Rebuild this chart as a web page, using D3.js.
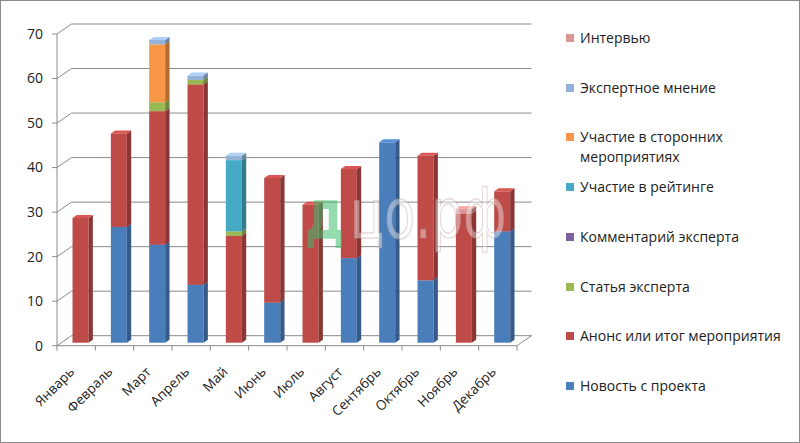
<!DOCTYPE html>
<html><head><meta charset="utf-8">
<script src="https://cdn.jsdelivr.net/npm/d3@7"></script>
<style>body{margin:0;background:#fff}svg{display:block}</style>
</head><body><svg id="c" width="800" height="443"></svg>
<script>
const months = ["Январь","Февраль","Март","Апрель","Май","Июнь","Июль","Август","Сентябрь","Октябрь","Ноябрь","Декабрь"];
const seriesNames = ["Новость с проекта","Анонс или итог мероприятия","Статья эксперта","Комментарий эксперта","Участие в рейтинге","Участие в сторонних мероприятиях","Экспертное мнение","Интервью"];
const news      = [0,26,22,13,0,9,0,19,45,14,0,25];
const announce  = [28,21,30,45,24,28,31,20,0,28,29,9];
const article   = [0,0,2,1,1,0,0,0,0,0,0,0];
const comment   = [0,0,0,0,0,0,0,0,0,0,0,0];
const rating    = [0,0,0,0,16,0,0,0,0,0,0,0];
const external  = [0,0,13,0,0,0,0,0,0,0,0,0];
const opinion   = [0,0,1,1,1,0,0,0,0,0,0,0];
const interview = [0,0,0,0,0,0,0,0,0,0,1,0];
const yTicks = [0,10,20,30,40,50,60,70];
const colors = ["#4A7EBB","#BE4B48","#98B954","#7D60A0","#46AAC5","#F79646","#95B3D7","#D99694"];

const allSeries = [news,announce,article,comment,rating,external,opinion,interview];
const svg = d3.select("#c");
const font = "'Open Sans', 'Noto Sans', sans-serif";

svg.append("rect").attr("x",0.5).attr("y",0.5).attr("width",799).attr("height",442)
  .attr("fill","none").attr("stroke","#8c8c8c");

const x = d3.scaleBand().domain(months).range([57,517]);
const y = d3.scaleLinear().domain([0,70]).range([345.7,34]);
const DX = 14.5, DY = -10;
const grid = "#8a8a8a";

yTicks.forEach(t=>{
  const yy = y(t);
  svg.append("line").attr("x1",57+DX).attr("x2",517+DX).attr("y1",yy+DY).attr("y2",yy+DY).attr("stroke",grid);
  svg.append("line").attr("x1",57).attr("x2",57+DX).attr("y1",yy).attr("y2",yy+DY).attr("stroke",grid);
});
svg.append("line").attr("x1",57).attr("x2",517).attr("y1",y(0)).attr("y2",y(0)).attr("stroke",grid);
svg.append("line").attr("x1",517).attr("x2",517+DX).attr("y1",y(0)).attr("y2",y(0)+DY).attr("stroke",grid);
svg.append("line").attr("x1",57).attr("x2",57).attr("y1",y(0)).attr("y2",y(70)).attr("stroke",grid);
yTicks.forEach(t=>{
  svg.append("line").attr("x1",52).attr("x2",57).attr("y1",y(t)).attr("y2",y(t)).attr("stroke",grid);
  svg.append("text").attr("x",43).attr("y",y(t)).attr("dy","0.35em").attr("text-anchor","end")
    .attr("font-family",font).attr("font-size",14).attr("fill","#222").text(t);
});
months.forEach((m,i)=>{
  const xx = x.range()[0] + i*x.bandwidth();
  svg.append("line").attr("x1",xx).attr("x2",xx).attr("y1",y(0)).attr("y2",y(0)+5).attr("stroke",grid);
});
svg.append("line").attr("x1",517).attr("x2",517).attr("y1",y(0)).attr("y2",y(0)+5).attr("stroke",grid);

const f0 = 0.3, f1 = 0.6;
const bw = 16;
const ox = DX*f0, oy = DY*f0, dx = DX*(f1-f0), dy = DY*(f1-f0);
months.forEach((m,i)=>{
  const cx = x(m) + x.bandwidth()/2 + ox;
  const x0 = cx - bw/2, x1 = cx + bw/2;
  let acc = 0;
  allSeries.forEach((s,k)=>{
    const v = s[i];
    if(!v) return;
    const yb = y(acc)+oy, yt = y(acc+v)+oy;
    acc += v;
    const c = d3.color(colors[k]);
    const g = svg.append("g");
    g.append("rect").attr("x",x0).attr("y",yt).attr("width",bw).attr("height",yb-yt).attr("fill",c.formatHex());
    g.append("path").attr("d",`M${x1},${yb}L${x1+dx},${yb+dy}L${x1+dx},${yt+dy}L${x1},${yt}Z`)
      .attr("fill",c.darker(0.9).formatHex());
    g.append("path").attr("d",`M${x0},${yt}L${x1},${yt}L${x1+dx},${yt+dy}L${x0+dx},${yt+dy}Z`)
      .attr("fill",c.brighter(0.4).formatHex());
  });
});

months.forEach(m=>{
  const cx = x(m) + x.bandwidth()/2 - 1;
  svg.append("text").attr("transform",`translate(${cx},${y(0)+27}) rotate(-45)`)
    .attr("text-anchor","end").attr("font-family",font).attr("font-size",13.5).attr("fill","#222").text(m);
});

svg.append("text").attr("transform","translate(305,238) scale(0.7,1)").attr("font-family","'DejaVu Sans', sans-serif")
  .attr("font-weight","bold").attr("font-size",70)
  .attr("fill","rgba(60,190,110,0.55)").text("д");
svg.append("text").attr("transform","translate(350,238) scale(0.72,1)").attr("font-family","'DejaVu Sans', sans-serif")
  .attr("font-size",70)
  .attr("fill","rgba(255,255,255,0.4)").attr("stroke","rgba(180,150,150,0.35)").attr("stroke-width",1.5).text("цо.рф");

const legendItems = [
  {k:7, lines:["Интервью"], y:38},
  {k:6, lines:["Экспертное мнение"], y:88},
  {k:5, lines:["Участие в сторонних","мероприятиях"], y:137},
  {k:4, lines:["Участие в рейтинге"], y:187},
  {k:3, lines:["Комментарий эксперта"], y:237},
  {k:2, lines:["Статья эксперта"], y:287},
  {k:1, lines:["Анонс или итог мероприятия"], y:336},
  {k:0, lines:["Новость с проекта"], y:386}
];
legendItems.forEach(it=>{
  svg.append("rect").attr("x",566).attr("y",it.y-4).attr("width",8).attr("height",8).attr("fill",colors[it.k]);
  const t = svg.append("text").attr("x",580).attr("y",it.y)
    .attr("font-family",font).attr("font-size",14).attr("fill","#222");
  it.lines.forEach((l,j)=>t.append("tspan").attr("x",580).attr("dy",j===0?"0.35em":"20").text(l));
});
</script></body></html>
